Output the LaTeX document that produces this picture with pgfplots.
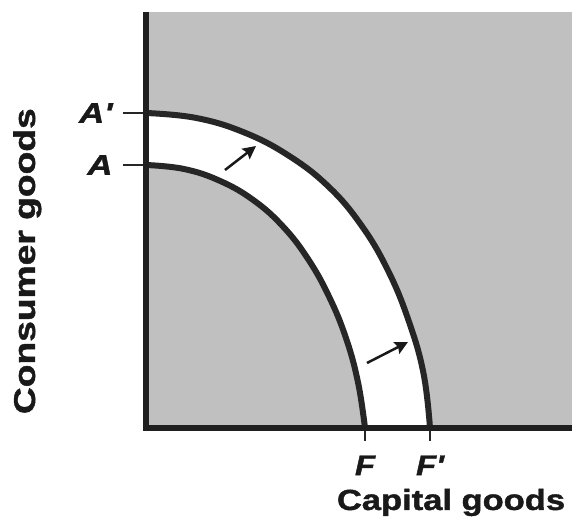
\documentclass[border=0pt]{standalone}
\usepackage{pgfplots}
\pgfplotsset{compat=1.18}
\usepgfplotslibrary{fillbetween}
\usetikzlibrary{arrows.meta}
\usepackage{graphicx}
\usepackage{fontspec}
\setmainfont{Liberation Sans}
\newfontfamily\labfont{Liberation Sans}[BoldFeatures={FakeBold=1.3},BoldItalicFeatures={FakeBold=1.3}]
\definecolor{bg}{RGB}{192,192,192}
\definecolor{ink}{RGB}{38,38,38}
\begin{document}
\begin{tikzpicture}
\begin{axis}[
  scale only axis, width=426pt, height=416pt,
  xmin=0, xmax=426, ymin=0, ymax=416,
  axis line style={draw=none},
  axis background/.style={fill=bg},
  clip=false,
  xtick={219,284}, xticklabels={\scalebox{1.15}[1]{F},\scalebox{1.15}[1]{F'}},
  ytick={263,315}, yticklabels={\scalebox{1.22}[1]{A},\scalebox{1.22}[1]{A'}},
  major tick length=0pt, tick style={draw=none},
  ticklabel style={font=\labfont\bfseries\itshape\fontsize{28.5}{30}\selectfont, text=black!90},
  xticklabel style={anchor=north, yshift=-24pt},
  yticklabel style={anchor=east, xshift=-30pt},
  xlabel={\scalebox{1.19}[1]{Capital goods}},
  ylabel={\scalebox{1.24}[1]{Consumer goods}},
  xlabel style={font=\labfont\bfseries\fontsize{29}{32}\selectfont, text=black!90, at={(axis description cs:0.716,-0.197)}, anchor=base},
  ylabel style={font=\labfont\bfseries\fontsize{30}{32}\selectfont, text=black!90, at={(axis description cs:-0.2606,0.401)}, anchor=base},
]
\addplot[name path=outer, draw=none, smooth, tension=0.7] coordinates {
 (0,315) (49.3,310.2) (97.1,296.0) (142,272.8) (182.6,241.3) (215.5,202.5) (242,157.5) (262.5,107.7) (277.5,54.7) (284,0)};
\addplot[name path=inner, draw=none, smooth, tension=0.7] coordinates {
 (0,263) (38,259) (74,247.1) (107.5,227.8) (137,201.5) (162,169.1) (183,131.5) (200,89.9) (212,45.7) (219,0)};
\addplot[white] fill between[of=outer and inner];
\addplot[ink, line width=6pt, smooth, tension=0.7] coordinates {
 (0,315) (49.3,310.2) (97.1,296.0) (142,272.8) (182.6,241.3) (215.5,202.5) (242,157.5) (262.5,107.7) (277.5,54.7) (284,0)};
\addplot[ink, line width=6pt, smooth, tension=0.7] coordinates {
 (0,263) (38,259) (74,247.1) (107.5,227.8) (137,201.5) (162,169.1) (183,131.5) (200,89.9) (212,45.7) (219,0)};
% shift arrows
\addplot[black!90, line width=2.5pt, -{Stealth[length=13pt,width=13pt,inset=2pt]}] coordinates {(79,258) (110,282)};
\addplot[black!90, line width=2.5pt, -{Stealth[length=13pt,width=13pt,inset=2pt]}] coordinates {(221,65) (262,86)};
% tick marks
\addplot[ink, line width=2.5pt] coordinates {(-23,315) (0,315)};
\addplot[ink, line width=2.5pt] coordinates {(-23,263) (0,263)};
\addplot[ink, line width=2.5pt] coordinates {(219,0) (219,-13)};
\addplot[ink, line width=2.5pt] coordinates {(284,0) (284,-13)};
% axis lines
\addplot[black!88, line width=6.5pt, line join=miter] coordinates {(0,416) (0,0) (426,0)};
\end{axis}
\pgfresetboundingbox
\path ([shift={(-146pt,-92pt)}]current axis.south west) rectangle ([shift={(2pt,12pt)}]current axis.north east);
\end{tikzpicture}
\end{document}
